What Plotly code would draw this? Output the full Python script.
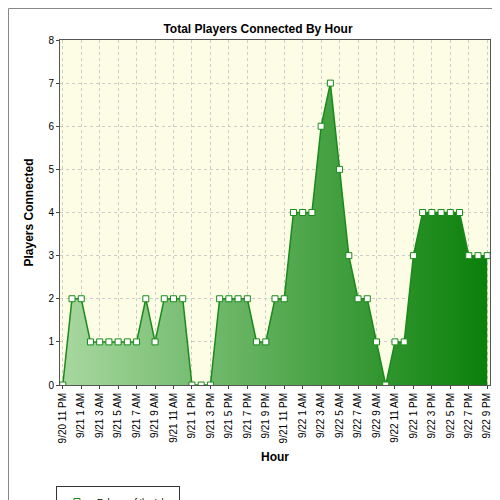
import plotly.graph_objects as go

hours = ["9/20 11 PM"]
for d in ["9/21", "9/22"]:
    for h in range(24):
        if d == "9/22" and h > 21:
            break
        hh = 12 if h % 12 == 0 else h % 12
        hours.append(f"{d} {hh} {'AM' if h < 12 else 'PM'}")
players = [0,
           2,2,1,1,1,1,1,1,2,1,2,2,2,0,0,0,2,2,2,2,1,1,2,2,
           4,4,4,6,7,5,3,2,2,1,0,1,1,3,4,4,4,4,4,3,3,3]
tick_labels = hours[::2]

PW, PH = 430, 345
fig = go.Figure(go.Scatter(
    x=list(range(len(hours))), y=players, mode="lines+markers", name="Echoes of the Isles",
    line=dict(color="#1a8a1a", width=1.5),
    marker=dict(symbol="square", size=6, color="white", line=dict(color="#1a8a1a", width=1)),
    fill="tozeroy",
    fillgradient=dict(type="horizontal", colorscale=[[0, "#a8d8a0"], [1, "#0a800a"]]),
))
fig.update_layout(
    width=500, height=500, margin=dict(l=52, r=18, t=32, b=123, autoexpand=False),
    paper_bgcolor="white", plot_bgcolor="#fdfde6",
    title=dict(text="<b>Total Players Connected By Hour</b>", x=0.5, y=0.966, xanchor="center",
               font=dict(family="Liberation Sans", size=12, color="black")),
    font=dict(family="Liberation Sans", size=10, color="black"),
    xaxis=dict(range=[-0.3, len(hours) - 0.7], tickvals=list(range(0, len(hours), 2)),
               ticktext=tick_labels, tickangle=-90, showgrid=True, gridcolor="#cccccc",
               griddash="dot", showline=True, linecolor="#555", mirror=True, automargin=False,
               ticks="outside", ticklen=3, zeroline=False,
               title=dict(text="<b>Hour</b>", font=dict(size=12), standoff=10)),
    yaxis=dict(range=[0, 8], dtick=1, showgrid=True, gridcolor="#cccccc", griddash="dot",
               showline=True, linecolor="#555", mirror=True, ticks="outside", ticklen=3,
               automargin=False, zeroline=False,
               title=dict(text="<b>Players Connected</b>", font=dict(size=12), standoff=12)),
    showlegend=True,
    legend=dict(x=-4 / PW, y=-101 / PH, xanchor="left", yanchor="top", bordercolor="#333",
                borderwidth=1, font=dict(size=9), bgcolor="white", itemwidth=30),
    shapes=[dict(type="rect", xref="paper", yref="paper", x0=-51.5 / PW, x1=1 + 17.5 / PW,
                 y0=-122.5 / PH, y1=1 + 31.5 / PH, line=dict(color="#888", width=1))],
)
fig.write_html("out.html")
